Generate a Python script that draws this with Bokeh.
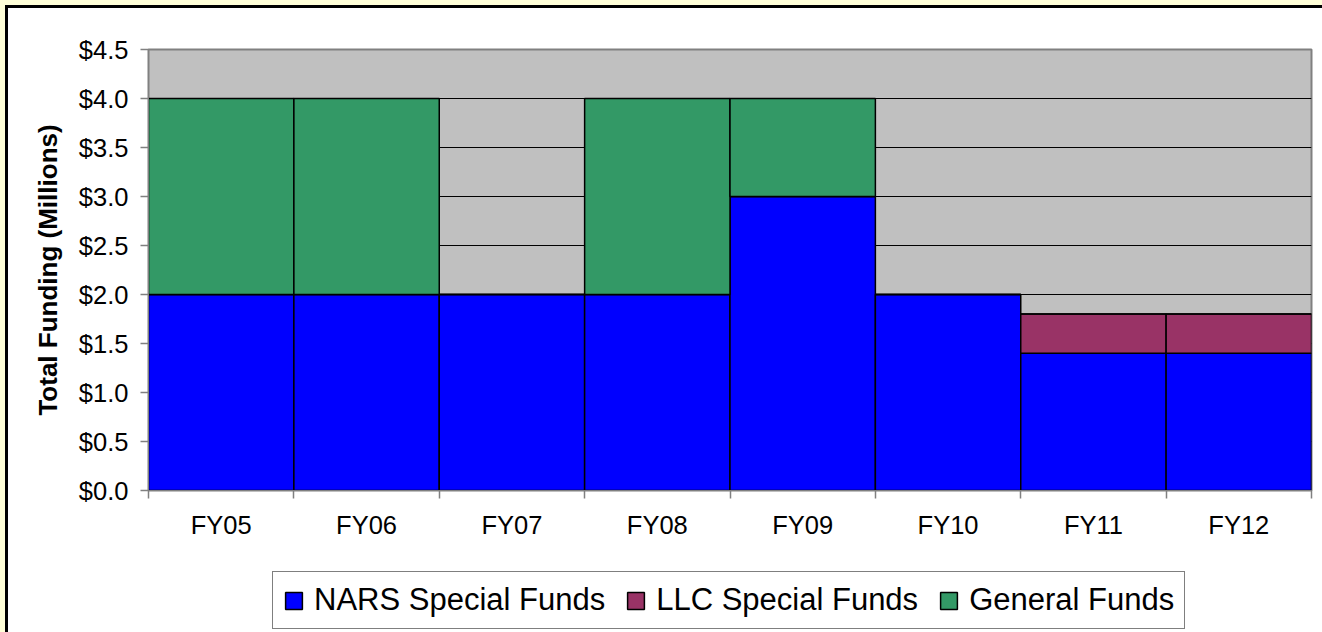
from bokeh.plotting import figure
from bokeh.models import (FixedTicker, NumeralTickFormatter, Legend, LegendItem,
                          ColumnDataSource)
from bokeh.layouts import column
from bokeh.embed import file_html
from bokeh.resources import INLINE

# ---- data ----
categories = ["FY05", "FY06", "FY07", "FY08", "FY09", "FY10", "FY11", "FY12"]
nars_special = [2.0, 2.0, 2.0, 2.0, 3.0, 2.0, 1.4, 1.4]
llc_special = [0.0, 0.0, 0.0, 0.0, 0.0, 0.0, 0.4, 0.4]
general_funds = [2.0, 2.0, 0.0, 2.0, 1.0, 0.0, 0.0, 0.0]
series_names = ["NARS Special Funds", "LLC Special Funds", "General Funds"]
y_ticks = [0.0, 0.5, 1.0, 1.5, 2.0, 2.5, 3.0, 3.5, 4.0, 4.5]

colors = ["#0000FF", "#993366", "#339966"]
FONT = "Liberation Sans"

n = len(categories)
xc = [i + 0.5 for i in range(n)]
src = ColumnDataSource(dict(x=xc, nars=nars_special, llc=llc_special, gen=general_funds))
stackers = ["nars", "llc", "gen"]

W = 1318
H_MAIN = 542
H_LEG = 82
RB = 11

p = figure(width=W, height=H_MAIN, x_range=(0, n), y_range=(y_ticks[0], y_ticks[-1]),
           output_backend="svg", toolbar_location=None,
           min_border_left=140, min_border_top=41, min_border_right=RB, min_border_bottom=60,
           background_fill_color="#C0C0C0", border_fill_color="white")

rs = p.vbar_stack(stackers, x="x", width=1, source=src,
                  fill_color=colors, line_color="black", line_width=1.5)

# x axis: labels at centers, ticks at boundaries
p.xaxis.ticker = FixedTicker(ticks=xc, minor_ticks=list(range(n + 1)))
p.xaxis.major_label_overrides = {x: c for x, c in zip(xc, categories)}
p.xaxis.major_tick_out = 8
p.xaxis.major_tick_in = 0
p.xaxis.major_tick_line_color = None
p.xaxis.minor_tick_out = 8
p.xaxis.minor_tick_in = 0
p.xaxis.minor_tick_line_color = "#808080"
p.xaxis.minor_tick_line_width = 1.5
p.xaxis.axis_line_color = "#808080"
p.xaxis.major_label_standoff = 12

p.yaxis.ticker = FixedTicker(ticks=y_ticks, minor_ticks=[])
p.yaxis.formatter = NumeralTickFormatter(format="$0.0")
p.yaxis.major_tick_out = 8
p.yaxis.major_tick_in = 0
p.yaxis.major_tick_line_color = "#808080"
p.yaxis.major_tick_line_width = 1.5
p.yaxis.axis_line_color = "#808080"
p.yaxis.major_label_standoff = 12
p.yaxis.axis_label = "Total Funding (Millions)"
p.yaxis.axis_label_text_font = FONT
p.yaxis.axis_label_text_font_size = "26px"
p.yaxis.axis_label_text_font_style = "bold"
p.yaxis.axis_label_text_color = "black"
p.yaxis.axis_label_standoff = 13

for ax in (p.xaxis, p.yaxis):
    ax.major_label_text_font = FONT
    ax.major_label_text_font_size = "25.5px"
    ax.major_label_text_color = "black"

p.xgrid.visible = False
p.ygrid.ticker = FixedTicker(ticks=y_ticks, minor_ticks=[])
p.ygrid.grid_line_color = "black"
p.ygrid.grid_line_width = 1

p.outline_line_color = "#808080"
p.outline_line_width = 2

# ---- legend strip: same stacked bars (hidden), only their legend shows ----
p2 = figure(width=W, height=H_LEG, x_range=(0, n), y_range=(0, 1),
            output_backend="svg", toolbar_location=None,
            min_border_left=140, min_border_right=RB, min_border_top=0, min_border_bottom=0,
            background_fill_color="white", border_fill_color="white")
p2.axis.visible = False
p2.grid.visible = False
p2.outline_line_color = None
rs2 = p2.vbar_stack(stackers, x="x", width=1, source=src,
                    fill_color=colors, line_color="black", line_width=1.5)
for r in rs2:
    r.visible = False

legend = Legend(items=[LegendItem(label=nm, renderers=[r]) for nm, r in zip(series_names, rs2)],
                orientation="horizontal", location=(124, 3),
                label_text_font=FONT, label_text_font_size="31px", label_text_color="black",
                glyph_width=21, glyph_height=21, label_standoff=10, spacing=20,
                padding=10, margin=0,
                border_line_color="black", border_line_width=1,
                background_fill_color="white", background_fill_alpha=1,
                inactive_fill_alpha=0)
p2.add_layout(legend)

inner = column(p, p2, spacing=0,
               styles={"background-color": "white",
                       "border-top": "3px solid black", "border-left": "3px solid black"})
outer = column(inner, styles={"background-color": "#FFFFD8", "padding": "5px 0 0 5px",
                              "overflow": "hidden", "max-width": "1322px", "max-height": "632px",
                              "box-sizing": "border-box"})

open("out.html", "w").write(file_html(outer, INLINE))
